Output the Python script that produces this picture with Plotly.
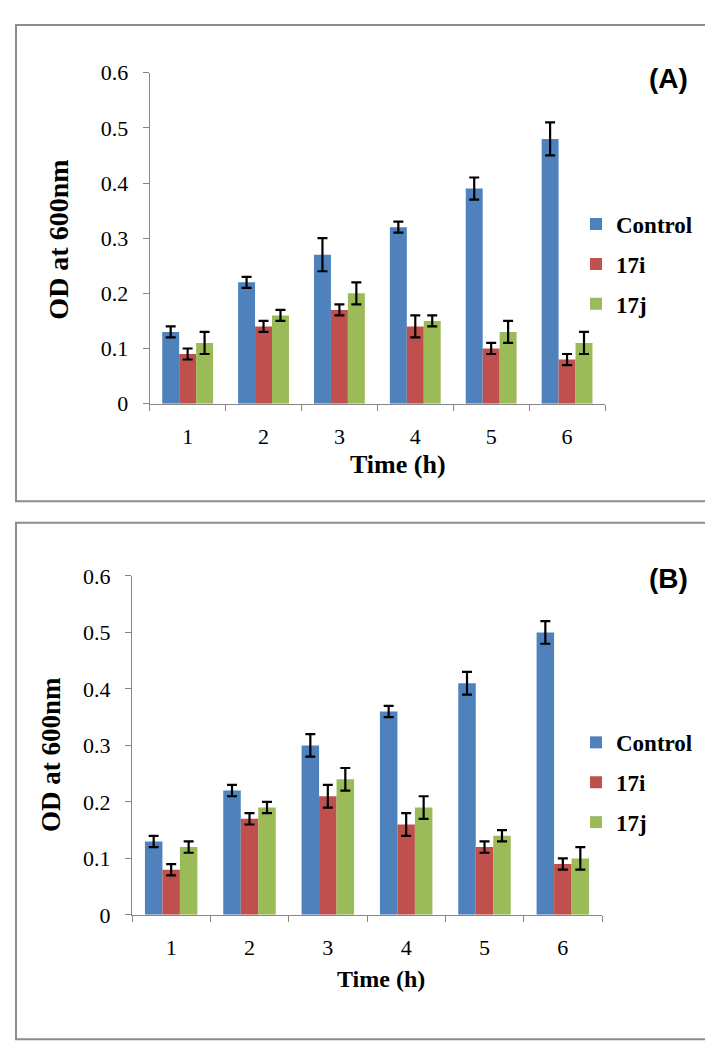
import plotly.graph_objects as go

# ---------------- data ----------------
hours = ["1", "2", "3", "4", "5", "6"]
y_ticks = [0, 0.1, 0.2, 0.3, 0.4, 0.5, 0.6]
y_tick_labels = ["0", "0.1", "0.2", "0.3", "0.4", "0.5", "0.6"]

series_names = ["Control", "17i", "17j"]

# Panel (A)
a_control = [0.13, 0.22, 0.27, 0.32, 0.39, 0.48]
a_control_err = [0.01, 0.01, 0.03, 0.01, 0.02, 0.03]
a_17i = [0.09, 0.14, 0.17, 0.14, 0.10, 0.08]
a_17i_err = [0.01, 0.01, 0.01, 0.02, 0.01, 0.01]
a_17j = [0.11, 0.16, 0.20, 0.15, 0.13, 0.11]
a_17j_err = [0.02, 0.01, 0.02, 0.01, 0.02, 0.02]

# Panel (B)
b_control = [0.13, 0.22, 0.30, 0.36, 0.41, 0.50]
b_control_err = [0.01, 0.01, 0.02, 0.01, 0.02, 0.02]
b_17i = [0.08, 0.17, 0.21, 0.16, 0.12, 0.09]
b_17i_err = [0.01, 0.01, 0.02, 0.02, 0.01, 0.01]
b_17j = [0.12, 0.19, 0.24, 0.19, 0.14, 0.10]
b_17j_err = [0.01, 0.01, 0.02, 0.02, 0.01, 0.02]

colors = ["#4F81BD", "#C0504D", "#9BBB59"]

W, H = 713, 1050
SERIF = "Liberation Serif, Times New Roman, serif"
SANS = "Liberation Sans, Arial, sans-serif"
AXIS_GREY = "#868686"


def px_x(x):
    return x / W


def px_y(y):
    return 1 - y / H


fig = go.Figure()

panels = [
    ("x", "y", "legend", "A",
     [a_control, a_17i, a_17j], [a_control_err, a_17i_err, a_17j_err]),
    ("x2", "y2", "legend2", "B",
     [b_control, b_17i, b_17j], [b_control_err, b_17i_err, b_17j_err]),
]

for xa, ya, leg, tag, vals, errs in panels:
    for name, v, e, c in zip(series_names, vals, errs, colors):
        fig.add_trace(go.Bar(
            x=hours, y=v, name=name, marker=dict(color=c, line=dict(width=0)),
            error_y=dict(type="data", array=e, color="black", thickness=2.2, width=5),
            xaxis=xa, yaxis=ya, legend=leg, legendgroup=tag + name,
        ))

axis_common_x = dict(
    type="category", tickson="boundaries", ticks="outside", ticklen=6,
    tickcolor=AXIS_GREY, showline=True, linecolor=AXIS_GREY, linewidth=1,
    showgrid=False, zeroline=False,
    tickfont=dict(family=SERIF, size=22, color="black"),
    ticklabelstandoff=13,
)
axis_common_y = dict(
    range=[0, 0.6], tickvals=y_ticks, ticktext=y_tick_labels,
    ticks="outside", ticklen=6, tickcolor=AXIS_GREY, showline=True,
    linecolor=AXIS_GREY, linewidth=1, showgrid=False, zeroline=False,
    tickfont=dict(family=SERIF, size=22, color="black"),
    ticklabelstandoff=10,
)

fig.update_layout(
    width=W, height=H,
    margin=dict(l=0, r=0, t=0, b=0),
    paper_bgcolor="white", plot_bgcolor="white",
    barmode="group", bargap=0.33, bargroupgap=0,
    xaxis=dict(domain=[px_x(141.7), px_x(597)], anchor="y", **axis_common_x),
    yaxis=dict(domain=[px_y(393), px_y(54)], anchor="x", **axis_common_y),
    xaxis2=dict(domain=[px_x(124), px_x(594)], anchor="y2", **axis_common_x),
    yaxis2=dict(domain=[px_y(916.7), px_y(569.5)], anchor="x2", **axis_common_y),
    legend=dict(
        x=px_x(568), y=px_y(187), xanchor="left", yanchor="top",
        font=dict(family=SERIF, size=23, color="black", weight="bold"),
        tracegroupgap=7, bgcolor="rgba(0,0,0,0)", itemclick=False,
    ),
    legend2=dict(
        x=px_x(568), y=px_y(718), xanchor="left", yanchor="top",
        font=dict(family=SERIF, size=23, color="black", weight="bold"),
        tracegroupgap=7, bgcolor="rgba(0,0,0,0)", itemclick=False,
    ),
    showlegend=True,
)

# panel borders
for y_top, y_bot in [(5, 493), (515, 1044)]:
    fig.add_shape(type="rect", xref="paper", yref="paper",
                  x0=px_x(8), x1=px_x(706), y0=px_y(y_bot), y1=px_y(y_top),
                  line=dict(color="#8C8C8C", width=2), fillcolor="rgba(0,0,0,0)",
                  layer="below")

annotations = [
    dict(text="(A)", x=px_x(660), y=px_y(60), font=dict(family=SANS, size=28, color="black", weight="bold")),
    dict(text="(B)", x=px_x(660), y=px_y(572), font=dict(family=SANS, size=28, color="black", weight="bold")),
    dict(text="OD at 600nm", x=px_x(51), y=px_y(225), textangle=-90,
         font=dict(family=SERIF, size=28, color="black", weight="bold")),
    dict(text="OD at 600nm", x=px_x(43), y=px_y(753), textangle=-90,
         font=dict(family=SERIF, size=27, color="black", weight="bold")),
    dict(text="Time (h)", x=px_x(390), y=px_y(455),
         font=dict(family=SERIF, size=26, color="black", weight="bold")),
    dict(text="Time (h)", x=px_x(373), y=px_y(982),
         font=dict(family=SERIF, size=24, color="black", weight="bold")),
]
for a in annotations:
    fig.add_annotation(xref="paper", yref="paper", showarrow=False,
                       xanchor="center", yanchor="middle", **a)

fig.write_html("out.html")
